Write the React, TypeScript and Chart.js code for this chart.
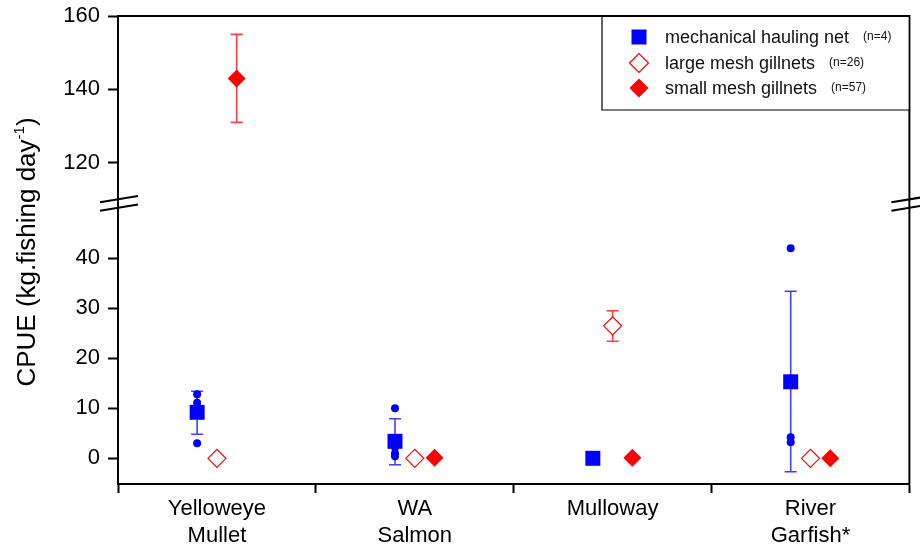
import React, { useEffect, useRef } from 'react';
import { Chart, registerables } from 'chart.js';

Chart.register(...registerables);

// Species groups along the x axis (multi-line labels)
const categories: string[][] = [['Yelloweye', 'Mullet'], ['WA', 'Salmon'], ['Mulloway'], ['River', 'Garfish*']];

// Gear types and their sample sizes
const gearNames = ['mechanical hauling net', 'large mesh gillnets', 'small mesh gillnets'];
const gearSampleSizes = ['(n=4)', '(n=26)', '(n=57)'];

// Mechanical hauling net: mean CPUE with error range, plus individual fishing days
const haulingMean = [9.2, 3.4, 0, 15.3];
const haulingLow: (number | null)[] = [4.8, -1.3, null, -2.7];
const haulingHigh: (number | null)[] = [13.4, 7.9, null, 33.4];
const haulingDays: number[][] = [[12.8, 11.1, 10.0, 3.0], [10.0, 2.2, 1.0, 0.4], [], [42.0, 4.2, 3.2]];

// Large mesh gillnets
const largeMeshMean = [0, 0, 26.5, 0];
const largeMeshLow: (number | null)[] = [null, null, 23.4, null];
const largeMeshHigh: (number | null)[] = [null, null, 29.5, null];

// Small mesh gillnets
const smallMeshMean = [143, 0.1, 0.1, 0];
const smallMeshLow: (number | null)[] = [131, null, null, null];
const smallMeshHigh: (number | null)[] = [155, null, null, null];

// Broken y axis: lower and upper segments
const lowerTicks = [0, 10, 20, 30, 40];
const upperTicks = [120, 140, 160];
const lowerRange = [-5.14, 50.96];
const upperRange = [108.9, 160];

const FONT = "'Liberation Sans', Arial, Helvetica, sans-serif";
const BLUE = '#0000ff';
const RED = '#ff0000';
const gearOffsets = [-0.1, 0, 0.1];

type Pt = { x: number; y: number; lo: number | null; hi: number | null };

function points(means: number[], lows: (number | null)[], highs: (number | null)[], gear: number,
  keep: (v: number) => boolean): Pt[] {
  const out: Pt[] = [];
  means.forEach((v, i) => {
    if (keep(v)) out.push({ x: i + 0.5 + gearOffsets[gear], y: v, lo: lows[i], hi: highs[i] });
  });
  return out;
}

// the plot frame is fixed by layout padding, not by label overhang
function noOverhang(s: any) {
  s.paddingTop = 0;
  s.paddingBottom = 0;
  s.paddingLeft = 0;
  s.paddingRight = 0;
}

const errorBars = {
  id: 'errorBars',
  beforeDatasetsDraw(chart: any) {
    const ctx = chart.ctx;
    chart.data.datasets.forEach((ds: any, di: number) => {
      if (!ds.errColor) return;
      const meta = chart.getDatasetMeta(di);
      const ys = chart.scales[ds.yAxisID];
      ds.data.forEach((p: Pt, i: number) => {
        if (p.lo == null || p.hi == null) return;
        const x = meta.data[i].x;
        const y1 = ys.getPixelForValue(p.lo);
        const y2 = ys.getPixelForValue(p.hi);
        ctx.save();
        ctx.strokeStyle = ds.errColor;
        ctx.lineWidth = 1.6;
        ctx.beginPath();
        ctx.moveTo(x, y1);
        ctx.lineTo(x, y2);
        ctx.moveTo(x - 6, y1);
        ctx.lineTo(x + 6, y1);
        ctx.moveTo(x - 6, y2);
        ctx.lineTo(x + 6, y2);
        ctx.stroke();
        ctx.restore();
      });
    });
  },
};

const frameAndDecor = {
  id: 'frameAndDecor',
  afterDraw(chart: any) {
    const ctx = chart.ctx;
    const { left, right, top, bottom } = chart.chartArea;
    ctx.save();
    // top and right frame
    ctx.strokeStyle = '#000';
    ctx.lineWidth = 2;
    ctx.beginPath();
    ctx.moveTo(left, top);
    ctx.lineTo(right, top);
    ctx.lineTo(right, bottom);
    ctx.stroke();

    // axis break marks at the segment boundary
    const yb = chart.scales.yHigh.bottom;
    const drawBreak = (x: number) => {
      ctx.beginPath();
      for (const dy of [-4.2, 4.2]) {
        ctx.moveTo(x - 18, yb + dy + 3);
        ctx.lineTo(x + 20, yb + dy - 3.2);
      }
      ctx.lineWidth = 2;
      ctx.strokeStyle = '#000';
      ctx.stroke();
    };
    drawBreak(left);
    drawBreak(right);

    // y axis title with superscript
    ctx.translate(35, 252);
    ctx.rotate(-Math.PI / 2);
    ctx.fillStyle = '#000';
    ctx.textBaseline = 'alphabetic';
    const main = 'CPUE (kg.fishing day';
    const sup = '-1';
    const close = ')';
    ctx.font = `26px ${FONT}`;
    const wMain = ctx.measureText(main).width;
    const wClose = ctx.measureText(close).width;
    ctx.font = `15px ${FONT}`;
    const wSup = ctx.measureText(sup).width;
    const total = wMain + wSup + wClose;
    let x0 = -total / 2;
    ctx.font = `26px ${FONT}`;
    ctx.fillText(main, x0, 0);
    x0 += wMain;
    ctx.font = `15px ${FONT}`;
    ctx.fillText(sup, x0, -11);
    x0 += wSup;
    ctx.font = `26px ${FONT}`;
    ctx.fillText(close, x0, 0);
    ctx.restore();

    // legend box
    ctx.save();
    const bx = 602;
    const by = top;
    const bb = 110;
    ctx.fillStyle = '#fff';
    ctx.fillRect(bx, by + 1, right - bx - 1, bb - by - 1);
    ctx.strokeStyle = '#000';
    ctx.lineWidth = 1.2;
    ctx.beginPath();
    ctx.moveTo(bx, by);
    ctx.lineTo(bx, bb);
    ctx.lineTo(right, bb);
    ctx.stroke();
    const rows = [37, 63, 88];
    rows.forEach((ry, i) => {
      const mx = 639;
      ctx.beginPath();
      if (i === 0) {
        ctx.fillStyle = BLUE;
        ctx.fillRect(mx - 7.5, ry - 7.5, 15, 15);
      } else {
        const r = 9.5;
        ctx.moveTo(mx - r, ry);
        ctx.lineTo(mx, ry - r);
        ctx.lineTo(mx + r, ry);
        ctx.lineTo(mx, ry + r);
        ctx.closePath();
        if (i === 1) {
          ctx.fillStyle = '#fff';
          ctx.fill();
          ctx.strokeStyle = RED;
          ctx.lineWidth = 1.2;
          ctx.stroke();
        } else {
          ctx.fillStyle = RED;
          ctx.fill();
        }
      }
      ctx.fillStyle = '#111';
      ctx.textBaseline = 'middle';
      ctx.font = `18px ${FONT}`;
      ctx.fillText(gearNames[i], 665, ry + 1);
      const w = ctx.measureText(gearNames[i]).width;
      ctx.font = `12px ${FONT}`;
      ctx.fillText(gearSampleSizes[i], 665 + w + 14, ry);
    });
    ctx.restore();
  },
};

export default function App() {
  const ref = useRef<HTMLCanvasElement>(null);

  useEffect(() => {
    if (!ref.current) return;
    const inUpper = (v: number) => v >= upperRange[0];
    const dayPoints = haulingDays.flatMap((vals, i) =>
      vals.map((v) => ({ x: i + 0.5 + gearOffsets[0], y: v })));

    const tickFont = { family: FONT, size: 22 };
    const yGrid = {
      drawOnChartArea: false,
      drawTicks: true,
      tickLength: 10,
      tickWidth: 2,
      tickColor: '#000',
    };

    const chart = new Chart(ref.current, {
      type: 'scatter',
      data: {
        datasets: [
          {
            label: gearNames[0],
            data: points(haulingMean, haulingLow, haulingHigh, 0, () => true),
            yAxisID: 'yLow',
            pointStyle: 'rect',
            pointRadius: 10.6,
            backgroundColor: BLUE,
            borderColor: BLUE,
            borderWidth: 0,
            errColor: 'rgba(0,0,255,0.75)',
          } as any,
          {
            label: gearNames[1],
            data: points(largeMeshMean, largeMeshLow, largeMeshHigh, 1, () => true),
            yAxisID: 'yLow',
            pointStyle: 'rectRot',
            pointRadius: 9,
            backgroundColor: '#fff',
            borderColor: RED,
            borderWidth: 1.2,
            errColor: 'rgba(255,0,0,0.75)',
          } as any,
          {
            label: gearNames[2],
            data: points(smallMeshMean, smallMeshLow, smallMeshHigh, 2, (v) => !inUpper(v)),
            yAxisID: 'yLow',
            pointStyle: 'rectRot',
            pointRadius: 9,
            backgroundColor: RED,
            borderColor: RED,
            borderWidth: 0,
            errColor: 'rgba(255,0,0,0.75)',
          } as any,
          {
            label: gearNames[2],
            data: points(smallMeshMean, smallMeshLow, smallMeshHigh, 2, inUpper),
            yAxisID: 'yHigh',
            pointStyle: 'rectRot',
            pointRadius: 9,
            backgroundColor: RED,
            borderColor: RED,
            borderWidth: 0,
            errColor: 'rgba(255,0,0,0.75)',
          } as any,
          {
            label: 'fishing days',
            data: dayPoints,
            yAxisID: 'yLow',
            pointStyle: 'circle',
            pointRadius: 4,
            backgroundColor: BLUE,
            borderColor: BLUE,
            borderWidth: 0,
          } as any,
        ],
      },
      options: {
        responsive: false,
        animation: false,
        events: [],
        clip: false as any,
        layout: { padding: { top: 16, right: 8, left: 0, bottom: 0 } },
        plugins: {
          legend: { display: false },
          tooltip: { enabled: false },
        },
        scales: {
          x: {
            type: 'linear',
            position: 'bottom',
            min: 0,
            max: categories.length,
            afterBuildTicks: (s: any) => {
              s.ticks = categories.map((_, i) => ({ value: i + 0.5 }));
            },
            afterFit: (s: any) => {
              s.height = 63;
              noOverhang(s);
            },
            ticks: {
              autoSkip: false,
              maxRotation: 0,
              color: '#000',
              font: { ...tickFont, lineHeight: 1.23 },
              padding: 2,
              callback: (_v: any, i: number) => categories[i],
            },
            grid: {
              offset: true,
              drawOnChartArea: false,
              drawTicks: true,
              tickLength: 9,
              tickWidth: 2,
              tickColor: '#000',
            },
            border: { display: true, color: '#000', width: 2 },
          },
          yLow: {
            type: 'linear',
            position: 'left',
            stack: 'cpue',
            stackWeight: 280.5,
            weight: 0,
            min: lowerRange[0],
            max: lowerRange[1],
            afterBuildTicks: (s: any) => {
              s.ticks = lowerTicks.map((v) => ({ value: v }));
            },
            afterFit: (s: any) => {
              s.width = 118;
              noOverhang(s);
            },
            ticks: { color: '#000', font: tickFont, padding: 8 },
            grid: yGrid,
            border: { display: true, color: '#000', width: 2 },
          },
          yHigh: {
            type: 'linear',
            position: 'left',
            stack: 'cpue',
            stackWeight: 187.5,
            weight: 1,
            min: upperRange[0],
            max: upperRange[1],
            afterBuildTicks: (s: any) => {
              s.ticks = upperTicks.map((v) => ({ value: v }));
            },
            afterFit: (s: any) => {
              s.width = 118;
              noOverhang(s);
            },
            ticks: { color: '#000', font: tickFont, padding: 8 },
            grid: yGrid,
            border: { display: true, color: '#000', width: 2 },
          },
        } as any,
      },
      plugins: [errorBars, frameAndDecor],
    });
    return () => chart.destroy();
  }, []);

  return (
    <div style={{ position: 'fixed', left: 0, top: 0, width: 920, height: 547, background: '#fff' }}>
      <canvas ref={ref} width={920} height={547} style={{ display: 'block' }} />
    </div>
  );
}
